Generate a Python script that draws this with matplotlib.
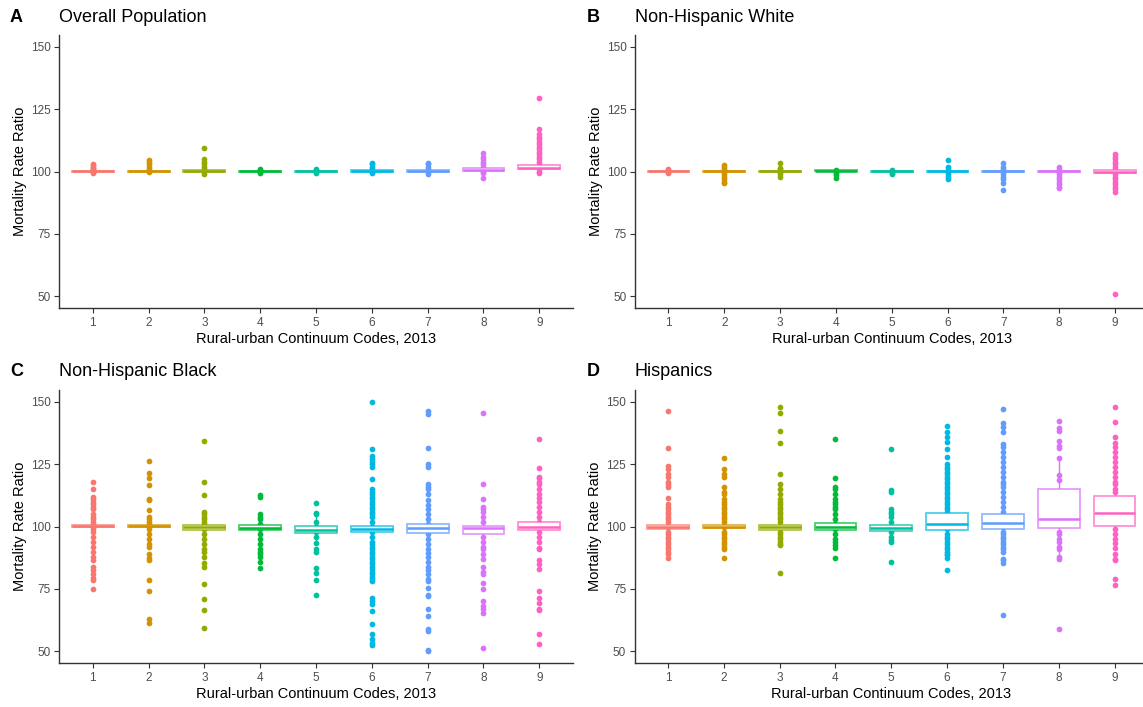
import matplotlib
matplotlib.use('Agg')
import matplotlib.pyplot as plt
from matplotlib.colors import to_rgba

plt.rcParams['font.family'] = ['Liberation Sans', 'DejaVu Sans']

# ---- data ----
codes = [1, 2, 3, 4, 5, 6, 7, 8, 9]
hue = ['#F8766D', '#D39200', '#93AA00', '#00BA38', '#00C19F',
       '#00B9E3', '#619CFF', '#DB72FB', '#FF61C3']
letters = ['A', 'B', 'C', 'D']
titles = ['Overall Population', 'Non-Hispanic White', 'Non-Hispanic Black', 'Hispanics']

# box stats per code: (q1, median, q3, whisker low, whisker high)
overall_box = [(99.9, 100.1, 100.3, 99.6, 100.7), (99.9, 100.2, 100.4, 99.6, 101.0),
               (99.9, 100.2, 100.5, 99.5, 101.0), (99.9, 100.1, 100.3, 99.6, 100.8),
               (99.9, 100.1, 100.3, 99.6, 100.8), (100.0, 100.4, 100.8, 99.5, 101.4),
               (99.9, 100.3, 100.7, 99.3, 101.3), (100.4, 100.8, 101.3, 99.6, 102.5),
               (101.0, 101.6, 102.6, 99.5, 104.8)]
white_box = [(99.9, 100.1, 100.3, 99.6, 100.6), (99.8, 100.1, 100.4, 99.0, 101.2),
             (99.9, 100.1, 100.3, 99.4, 100.8), (100.1, 100.4, 100.7, 99.6, 101.2),
             (99.9, 100.1, 100.3, 99.5, 100.7), (99.8, 100.1, 100.4, 99.0, 101.2),
             (99.8, 100.1, 100.4, 99.0, 101.2), (99.8, 100.1, 100.4, 99.0, 101.2),
             (99.6, 100.0, 100.5, 98.3, 101.8)]
black_box = [(99.8, 100.2, 100.8, 98.5, 102.0), (99.7, 100.1, 100.5, 98.5, 101.7),
             (98.8, 99.8, 100.5, 96.3, 103.0), (98.5, 99.5, 100.5, 95.5, 103.5),
             (97.5, 98.6, 100.3, 93.5, 104.5), (98.0, 99.0, 100.4, 94.5, 104.0),
             (97.5, 99.5, 100.9, 92.5, 106.0), (97.0, 99.5, 100.4, 92.0, 105.5),
             (98.5, 100.0, 102.0, 93.3, 107.2)]
hisp_box = [(99.2, 100.0, 100.6, 97.1, 102.7), (99.3, 100.0, 100.6, 97.4, 102.5),
            (98.8, 99.7, 100.5, 96.3, 103.0), (98.6, 100.0, 101.4, 94.4, 105.6),
            (98.4, 99.5, 100.8, 94.8, 104.4), (98.7, 101.1, 105.3, 88.8, 115.2),
            (99.0, 101.5, 105.0, 90.0, 114.0), (99.6, 103.2, 114.9, 87.0, 128.0),
            (100.4, 105.3, 112.4, 91.5, 126.0)]

# county points per code
overall_pts = [
    [99.5, 100, 100.5, 101, 101.5, 102, 102.5, 103],
    [100, 101, 102, 103, 104, 104.5],
    [99, 100, 101, 102, 103, 104, 105, 109.5],
    [99.5, 100, 100.5, 101],
    [99.5, 100, 100.5, 101],
    [99.5, 100, 101, 102, 103, 103.5],
    [99, 100, 101, 102, 103, 103.5],
    [97.5, 99.5, 100, 101, 102, 103, 104, 105, 106, 107.5],
    [99.5, 100, 101, 102, 103, 104, 105, 106, 107, 108, 109, 110, 111, 112, 113, 114,
     115, 117, 129.5],
]
white_pts = [
    [99.5, 100, 100.5, 101],
    [95.5, 96, 97, 98, 99, 100, 101, 102, 102.5],
    [98, 99, 100, 101, 101.5, 103.5],
    [97.5, 98.5, 99.5, 100, 100.5],
    [99, 99.5, 100, 100.5],
    [97, 98, 99, 100, 101, 102, 104.5],
    [92.5, 95.5, 97, 98, 99, 100, 101, 102, 103.5],
    [93.5, 94, 95, 96, 97, 98, 99, 100, 101, 102],
    [51, 92, 93, 94, 95, 96, 97, 98, 99, 100, 101, 102, 103, 104, 105, 106, 107],
]
black_pts = [
    [75, 78.5, 79.5, 81, 82.5, 84, 86.5, 88, 90, 92, 94, 96, 98, 99, 100, 101, 102, 103,
     104, 105, 107, 108, 109, 110, 111, 112, 115, 118],
    [61.5, 63, 74, 78.5, 86.5, 87.5, 89, 92, 93, 95, 97, 99, 100, 101, 102, 103, 104,
     106.5, 110.5, 111, 116.5, 119.5, 121.5, 126.5],
    [59.5, 66.5, 71, 77, 84, 85.5, 88, 90, 91, 93, 95, 97, 99, 101, 102, 103, 104, 105,
     106, 112.5, 118, 134.5],
    [83.5, 86, 88, 89, 90, 91, 93, 95, 97, 99, 101, 103, 104, 105, 112, 112.5],
    [72.5, 78.5, 81.5, 83.5, 90, 91, 93.5, 96, 98, 100, 102, 105, 105.5, 109.5],
    [52.5, 53.5, 55, 57, 61, 66, 69, 70, 71.5, 78, 79, 80, 81, 82, 83, 84, 85, 86, 87, 88,
     89, 90, 91, 92, 93, 94, 96, 98, 100, 102, 104, 105, 106, 107, 108, 109, 110, 111,
     112, 113, 114, 115, 119, 124, 125, 126, 127, 128.5, 131, 150],
    [50, 50.5, 58, 59, 64, 67, 72, 72.5, 75.5, 78, 79, 81, 82.5, 84, 86, 88, 89.5, 91, 93,
     95, 97, 99, 101, 103, 105, 107, 108.5, 110.5, 113, 115, 116, 117, 124, 125, 131.5,
     145, 146.5],
    [51.5, 65.5, 67, 68, 70, 75, 77.5, 81, 82, 84, 87, 89, 91, 92, 94, 96, 99, 102, 104,
     106, 107, 108, 111, 117, 145.5],
    [53, 57, 66.5, 67, 69.5, 71.5, 74, 83, 85, 86.5, 91, 91.5, 94, 96, 98, 100, 102, 104,
     106, 108, 110, 111.5, 113, 115, 117, 118, 119.5, 120, 123.5, 135],
]
hisp_pts = [
    [87.5, 89, 90, 91, 92, 93, 94, 95, 96, 97, 98, 100, 102, 103, 104, 105, 106, 107, 108,
     109, 111.5, 116, 117, 118, 120, 121, 123, 124.5, 131.5, 146.5],
    [87.5, 91, 92, 93, 94, 95, 96, 97, 98, 100, 102, 103, 104, 105, 106, 107, 108, 109,
     110, 111, 113, 114, 116, 120, 121, 123, 127.5],
    [81.5, 92.5, 93, 94, 95, 96, 97, 98, 100, 102, 103, 104, 105, 106, 107, 108, 109, 110,
     111, 113, 115, 117, 121, 133.5, 138.5, 145.5, 148],
    [87.5, 91.5, 92.5, 94, 95, 97, 99, 101, 103, 105, 107, 108, 109, 110, 111, 113, 115,
     116, 119.5, 135],
    [86, 94, 94.5, 96, 98, 100, 102, 104, 105, 106, 107, 114, 114.5, 131],
    [82.5, 87.5, 88.5, 89, 90, 91, 92, 93, 94, 95, 96, 97, 99, 103, 106, 107, 108, 109,
     110, 111, 112, 113, 114, 115, 116, 117, 118, 119, 120, 121, 122, 123, 124, 125, 128,
     131, 134, 136, 138, 140.5],
    [64.5, 85.5, 86.5, 87, 90, 91, 92, 93, 94, 95, 96, 97, 98, 100, 106, 108, 110, 112,
     114, 116, 117, 118, 120, 122, 124, 126, 128, 130, 132, 133, 138, 140, 141.5, 147],
    [59, 87, 88, 91, 92, 94, 95, 97, 98, 118.5, 120.5, 127.5, 131.5, 132.5, 134.5, 138.5,
     139.5, 142.5],
    [76.5, 79, 86.5, 87, 89, 91.5, 93.5, 95, 97, 99, 114, 115, 117, 118, 120, 122, 124,
     126, 128, 130, 132, 133.5, 136, 142, 148],
]

boxes = [overall_box, white_box, black_box, hisp_box]
points = [overall_pts, white_pts, black_pts, hisp_pts]

# ---- layout in pixels: (left, top) of each panel ----
W, H = 1143, 707
panel_w, panel_h = 513.5, 273.6
corners = [(59.3, 34.7), (635.0, 34.7), (59.3, 389.7), (634.5, 389.7)]
title_y = [17, 17, 372, 372]
letter_x = [10, 587, 10, 587]

fig = plt.figure(figsize=(W / 100, H / 100), dpi=100)

for k in range(4):
    l, t = corners[k]
    ax = fig.add_axes([l / W, 1 - (t + panel_h) / H, panel_w / W, panel_h / H])

    for i, pts in enumerate(points[k]):
        ax.scatter([codes[i]] * len(pts), pts, s=17, color=hue[i], lw=0, zorder=2)

    stats = [dict(q1=b[0], med=b[1], q3=b[2], whislo=b[3], whishi=b[4]) for b in boxes[k]]
    bp = ax.bxp(stats, positions=codes, widths=0.75, patch_artist=True,
                showfliers=False, showcaps=False, manage_ticks=False)
    for i in range(len(codes)):
        bp['boxes'][i].set(facecolor='white', edgecolor=to_rgba(hue[i], 0.7), lw=1.3, zorder=3)
        bp['medians'][i].set(color=hue[i], lw=1.8, zorder=4)
        for w in bp['whiskers'][2 * i:2 * i + 2]:
            w.set(color=hue[i], lw=1.0, zorder=2.5)

    ax.set_xlim(0.4, 9.6)
    ax.set_ylim(45.2, 154.9)
    ax.set_xticks(codes)
    ax.set_yticks([50, 75, 100, 125, 150])
    for s in ['top', 'right']:
        ax.spines[s].set_visible(False)
    for s in ['left', 'bottom']:
        ax.spines[s].set_color('#333333')
        ax.spines[s].set_linewidth(1.0)
    ax.tick_params(colors='#333333', labelcolor='#4D4D4D', labelsize=8.5,
                   length=3.5, width=0.8, pad=2.5)
    ax.set_xlabel('Rural-urban Continuum Codes, 2013', fontsize=10.5, labelpad=2.5)
    ax.set_ylabel('Mortality Rate Ratio', fontsize=10.5, labelpad=3)

    fig.text(letter_x[k] / W, 1 - title_y[k] / H, letters[k], fontsize=13,
             fontweight='bold', va='center', ha='left')
    fig.text(l / W, 1 - title_y[k] / H, titles[k], fontsize=13, va='center', ha='left')

fig.savefig('out.png', dpi=100, facecolor='white')
